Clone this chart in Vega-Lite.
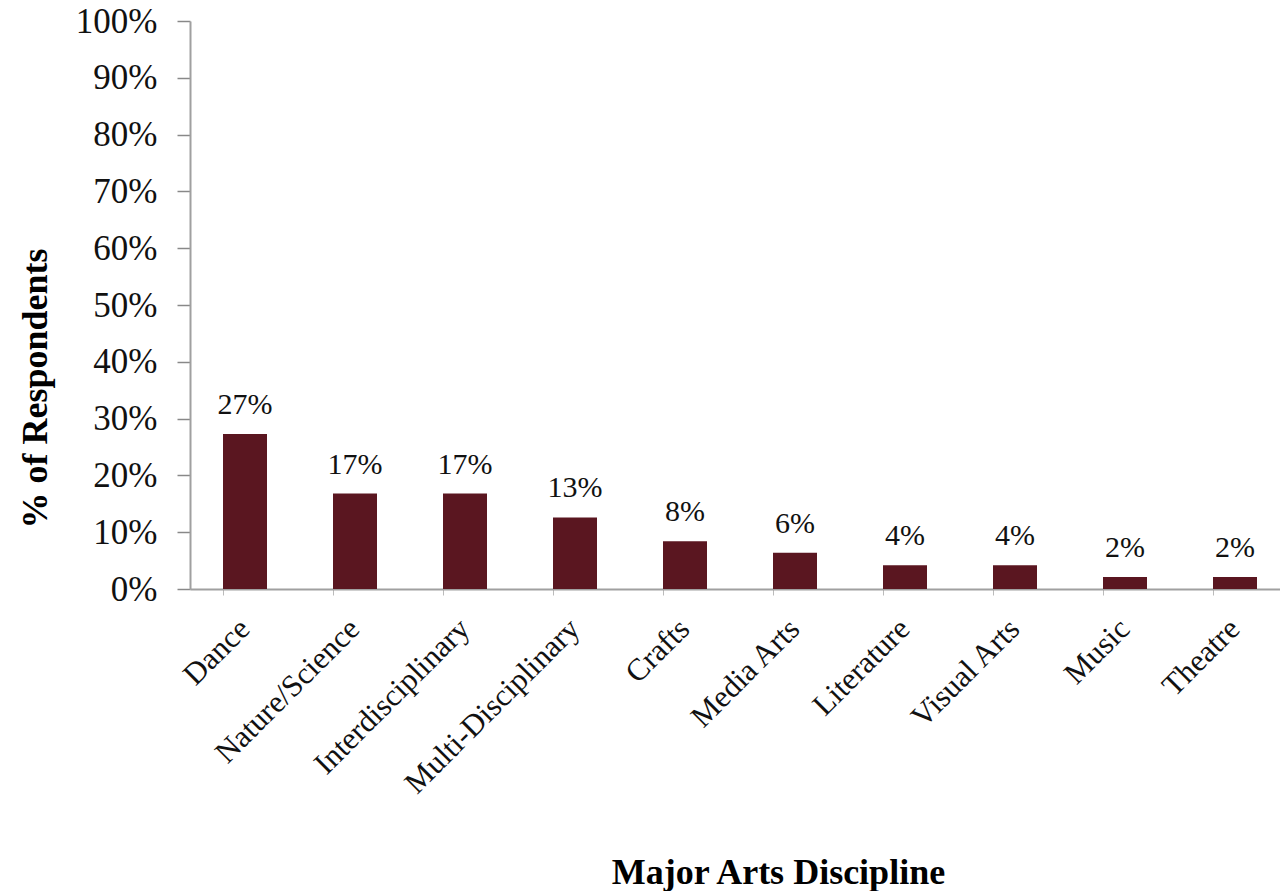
{
  "$schema": "https://vega.github.io/schema/vega-lite/v6.json",
  "autosize": {"type": "none"},
  "padding": {"left": 190, "top": 21, "right": 0, "bottom": 302},
  "width": 1090,
  "height": 568,
  "background": "white",
  "config": {
    "view": {"stroke": null},
    "font": "Liberation Serif"
  },
  "data": {
    "values": [
      {"discipline": "Dance", "share": 0.273},
      {"discipline": "Nature/Science", "share": 0.168},
      {"discipline": "Interdisciplinary", "share": 0.168},
      {"discipline": "Multi-Disciplinary", "share": 0.126},
      {"discipline": "Crafts", "share": 0.084},
      {"discipline": "Media Arts", "share": 0.064},
      {"discipline": "Literature", "share": 0.042},
      {"discipline": "Visual Arts", "share": 0.042},
      {"discipline": "Music", "share": 0.021},
      {"discipline": "Theatre", "share": 0.021}
    ]
  },
  "encoding": {
    "x": {
      "field": "discipline",
      "type": "nominal",
      "sort": null,
      "scale": {"range": [0, 1100], "paddingInner": 0.6, "paddingOuter": 0.3},
      "axis": {
        "title": "Major Arts Discipline",
        "titleFont": "Liberation Serif",
        "titleFontSize": 36,
        "titleFontWeight": "bold",
        "titleColor": "#000",
        "titleX": 588,
        "titleY": 294,
        "titleAlign": "center",
        "titleBaseline": "alphabetic",
        "labelAngle": -45,
        "labelAlign": "right",
        "labelBaseline": "middle",
        "labelFont": "Liberation Serif",
        "labelFontSize": 31,
        "labelColor": "#111",
        "labelPadding": 29,
        "labelLimit": 0,
        "bandPosition": 0,
        "tickSize": 6,
        "tickColor": "#bbb",
        "domainColor": "#a0a0a0",
        "domainWidth": 2,
        "grid": false
      }
    },
    "y": {
      "field": "share",
      "type": "quantitative",
      "scale": {"domain": [0, 1], "nice": false},
      "axis": {
        "title": "%  of  Respondents",
        "titleFont": "Liberation Serif",
        "titleFontSize": 36,
        "titleFontWeight": "bold",
        "titleColor": "#000",
        "titleX": -155,
        "titleY": 367,
        "titleAngle": -90,
        "titleAlign": "center",
        "titleBaseline": "middle",
        "format": ".0%",
        "values": [0, 0.1, 0.2, 0.3, 0.4, 0.5, 0.6, 0.7, 0.8, 0.9, 1.0],
        "labelFont": "Liberation Serif",
        "labelFontSize": 35,
        "labelColor": "#111",
        "labelPadding": 20,
        "tickSize": 13,
        "tickColor": "#888",
        "tickWidth": 1.5,
        "domainColor": "#a0a0a0",
        "domainWidth": 2,
        "grid": false
      }
    }
  },
  "layer": [
    {"mark": {"type": "bar", "color": "#5a1620"}},
    {
      "mark": {"type": "text", "baseline": "alphabetic", "dy": -20, "fontSize": 30, "font": "Liberation Serif", "color": "#111"},
      "encoding": {"text": {"field": "share", "type": "quantitative", "format": ".0%"}}
    }
  ]
}
